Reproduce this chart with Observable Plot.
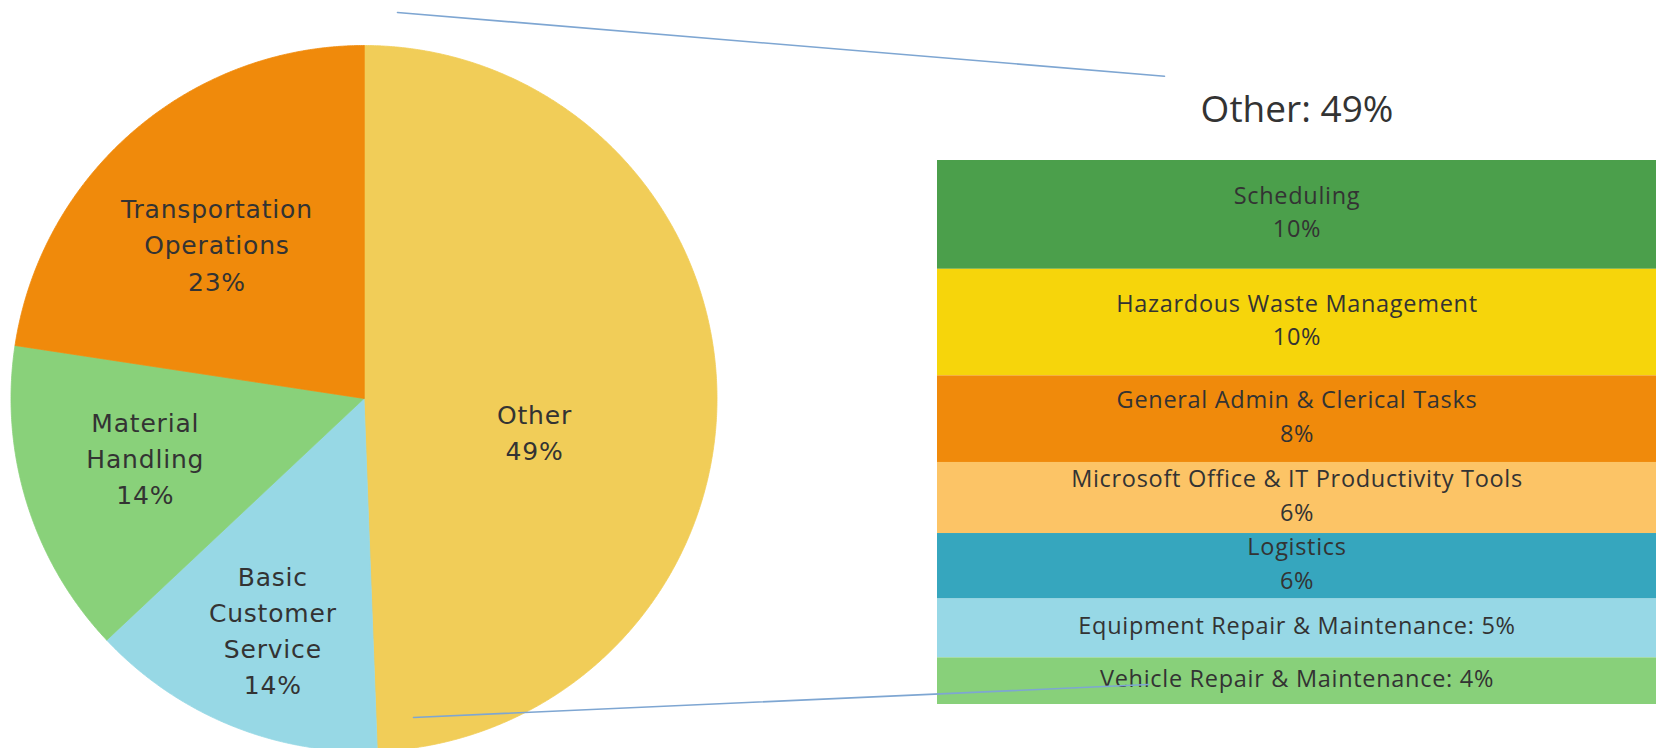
<!DOCTYPE html>
<html>
<head>
<meta charset="utf-8">
<script src="https://cdn.jsdelivr.net/npm/d3@7"></script>
<script src="https://cdn.jsdelivr.net/npm/@observablehq/plot@0.6"></script>
<style>
  html, body { margin: 0; padding: 0; background: #ffffff; overflow: hidden; }
  #chart { position: relative; width: 1656px; height: 748px; }
  #chart svg { position: absolute; left: 0; top: 0; }
</style>
</head>
<body>
<div id="chart"></div>
<script>
// ---------- DATA ----------
const pieCategories = ["Other", "Basic Customer Service", "Material Handling", "Transportation Operations"];
const pieLabelNames = ["Other", "Basic\nCustomer\nService", "Material\nHandling", "Transportation\nOperations"];
const pieValues = [49.4, 13.6, 14.4, 22.6];

const otherTitle = "Other: 49%";
const otherCategories = [
  "Scheduling",
  "Hazardous Waste Management",
  "General Admin & Clerical Tasks",
  "Microsoft Office & IT Productivity Tools",
  "Logistics",
  "Equipment Repair & Maintenance",
  "Vehicle Repair & Maintenance"
];
const otherValues = [9.8, 9.6, 7.8, 6.4, 5.9, 5.3, 4.2];

// ---------- STYLE / LAYOUT ----------
const W = 1656, H = 748;
const pieColors = ["#F1CD58", "#97D8E5", "#89D17A", "#F08A0B"];
const barColors = ["#4B9F4B", "#F6D50B", "#F08A0B", "#FCC466", "#36A6BE", "#97D8E6", "#88D07A"];
const pieGeom = {cx: 363.5, cy: 398, r: 353};
const labelRadius = [0.5, 0.71, 0.64, 0.6];
const labelNudgePx = [[-6, 35], [4, -2], [-3, -9], [-9, 5]];
const panel = {left: 937, top: 160, bottom: 704};
const lineColor = "#7EA6D2";
// connector annotation endpoints (pixel layout)
const connectorsPx = [
  [[397, 12], [1164, 75.7]],
  [[413, 717], [1148, 684]]
];
const textColor = "#333333";

// ---------- PIE GEOMETRY ----------
const arcs = d3.pie().sort(null).value(d => d)(pieValues);
const slicePoints = [];
arcs.forEach((a, i) => {
  slicePoints.push({name: pieCategories[i], color: pieColors[i], x: 0, y: 0});
  const n = Math.max(2, Math.ceil((a.endAngle - a.startAngle) / 0.005));
  for (let k = 0; k <= n; k++) {
    const t = a.startAngle + (a.endAngle - a.startAngle) * k / n;
    slicePoints.push({name: pieCategories[i], color: pieColors[i], x: Math.sin(t), y: Math.cos(t)});
  }
});
const pieLabels = arcs.map((a, i) => {
  const m = (a.startAngle + a.endAngle) / 2;
  return {
    x: Math.sin(m) * labelRadius[i] + labelNudgePx[i][0] / pieGeom.r,
    y: Math.cos(m) * labelRadius[i] - labelNudgePx[i][1] / pieGeom.r,
    text: pieLabelNames[i] + "\n" + Math.round(pieValues[i]) + "%"
  };
});
const connectorPoints = [];
connectorsPx.forEach((seg, i) => seg.forEach(([px, py]) => connectorPoints.push({
  id: i, x: (px - pieGeom.cx) / pieGeom.r, y: (pieGeom.cy - py) / pieGeom.r
})));

// ---------- BAR DATA ----------
const rows = otherCategories.map((c, i) => {
  const pct = Math.round(otherValues[i]) + "%";
  return {
    group: "Other",
    name: c,
    value: otherValues[i],
    color: barColors[i],
    label: otherValues[i] < 5.5 ? `${c}: ${pct}` : `${c}\n${pct}`
  };
});

const barPlot = Plot.plot({
  width: W, height: H,
  marginLeft: panel.left, marginRight: 0,
  marginTop: panel.top, marginBottom: H - panel.bottom,
  style: {background: "transparent"},
  x: {domain: ["Other"], padding: 0, axis: null},
  y: {domain: [0, d3.sum(otherValues)], axis: null},
  color: {type: "identity"},
  marks: [
    Plot.barY(rows, Plot.stackY({x: "group", y: "value", fill: "color", reverse: true})),
    Plot.text(rows, Plot.stackY({
      x: "group", y: "value", text: "label", reverse: true, dy: -5,
      fill: textColor, fontSize: 23.5, lineHeight: 1.43,
      fontFamily: "'Open Sans', sans-serif", lineAnchor: "middle"
    })),
    Plot.text([otherTitle], {
      frameAnchor: "top", dy: -50, text: d => d,
      fontSize: 37, fill: textColor, fontFamily: "'Open Sans', sans-serif", lineAnchor: "middle"
    })
  ]
});

const piePlot = Plot.plot({
  width: W, height: H,
  margin: 0,
  style: {background: "transparent"},
  x: {domain: [-1, 1], range: [pieGeom.cx - pieGeom.r, pieGeom.cx + pieGeom.r], axis: null},
  y: {domain: [-1, 1], range: [pieGeom.cy + pieGeom.r, pieGeom.cy - pieGeom.r], axis: null},
  color: {type: "identity"},
  marks: [
    Plot.line(slicePoints, {x: "x", y: "y", z: "name", fill: "color", stroke: "color", strokeWidth: 0.8, curve: "linear-closed"}),
    Plot.text(pieLabels, {
      x: "x", y: "y", text: "text", fill: textColor, fontSize: 25, lineHeight: 1.45,
      fontFamily: "'DejaVu Sans', sans-serif", lineAnchor: "middle"
    }),
    Plot.line(connectorPoints, {x: "x", y: "y", z: "id", stroke: lineColor, strokeWidth: 1.6})
  ]
});

// letter spacing for label text (not the title)
piePlot.querySelectorAll("text").forEach(t => t.style.letterSpacing = "0.8px");
const barTextGroups = barPlot.querySelectorAll("g[aria-label='text']");
if (barTextGroups.length) barTextGroups[0].querySelectorAll("text").forEach(t => t.style.letterSpacing = "0.7px");

const chart = document.getElementById("chart");
chart.appendChild(barPlot);
chart.appendChild(piePlot);
</script>
</body>
</html>
